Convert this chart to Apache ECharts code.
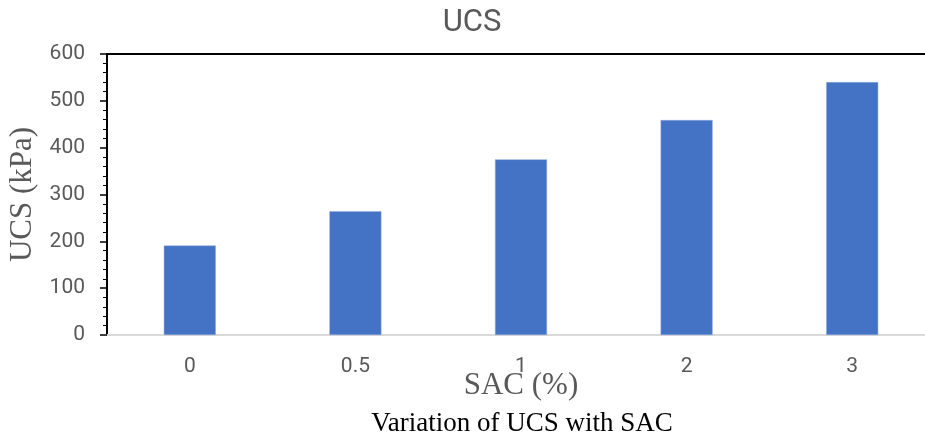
<!DOCTYPE html>
<html>
<head>
<meta charset="utf-8">
<script src="https://cdn.jsdelivr.net/npm/echarts@6/dist/echarts.min.js"></script>
<style>html,body{margin:0;padding:0;background:#fff;}#c{width:925px;height:437px;}</style>
</head>
<body>
<div id="c"></div>
<script>
const categories = ['0', '0.5', '1', '2', '3'];
const ucsValues = [191, 264, 375, 459, 540];
const yMin = 0, yMax = 600, yInterval = 100;
const chartTitle = 'UCS';
const caption = 'Variation of UCS with SAC';
const xName = 'SAC (%)';
const yName = 'UCS (kPa)';

const chart = echarts.init(document.getElementById('c'));
chart.setOption({
  animation: false,
  backgroundColor: '#ffffff',
  grid: { left: 107, width: 828, top: 54, height: 281, containLabel: false, outerBoundsMode: 'none' },
  graphic: [
    { type: 'text', x: 472, y: 23, style: { text: chartTitle, fill: '#595959', font: '31px "Liberation Sans Narrow", "Roboto", sans-serif', textAlign: 'center', textVerticalAlign: 'middle' } },
    { type: 'text', x: 522, y: 424, style: { text: caption, fill: '#000000', font: '27px "Liberation Serif", "Times New Roman", serif', textAlign: 'center', textVerticalAlign: 'middle' } }
  ],
  xAxis: [
    {
      type: 'category', data: categories, position: 'bottom',
      axisLine: { show: true, lineStyle: { color: '#d9d9d9', width: 2 } },
      axisTick: { show: false },
      axisLabel: { color: '#595959', fontSize: 21, fontFamily: 'Roboto, sans-serif', margin: 21 },
      name: xName, nameLocation: 'middle', nameGap: 35, nameMoveOverlap: false,
      nameTextStyle: { color: '#595959', fontSize: 31, fontFamily: '"Liberation Serif", "Times New Roman", serif' }
    },
    {
      type: 'category', data: categories, position: 'top',
      axisLine: { show: true, lineStyle: { color: '#000000', width: 2 } },
      axisTick: { show: false }, axisLabel: { show: false }
    }
  ],
  yAxis: {
    type: 'value', min: yMin, max: yMax, interval: yInterval,
    axisLine: { show: true, lineStyle: { color: '#000000', width: 2 } },
    axisTick: { show: true, length: 7, lineStyle: { color: '#000000', width: 1.5 } },
    minorTick: { show: true, splitNumber: 5, length: 4, lineStyle: { color: '#000000', width: 1 } },
    splitLine: { show: false },
    axisLabel: { color: '#595959', fontSize: 21, fontFamily: 'Roboto, sans-serif', margin: 22 },
    name: yName, nameLocation: 'middle', nameGap: 69, nameMoveOverlap: false,
    nameTextStyle: { color: '#595959', fontSize: 31, fontFamily: '"Liberation Serif", "Times New Roman", serif' }
  },
  series: [{
    type: 'bar', data: ucsValues, barWidth: 52, xAxisIndex: 0,
    itemStyle: { color: '#4472c4', borderColor: '#8faadc', borderWidth: 0.5 }
  }]
});
</script>
</body>
</html>
